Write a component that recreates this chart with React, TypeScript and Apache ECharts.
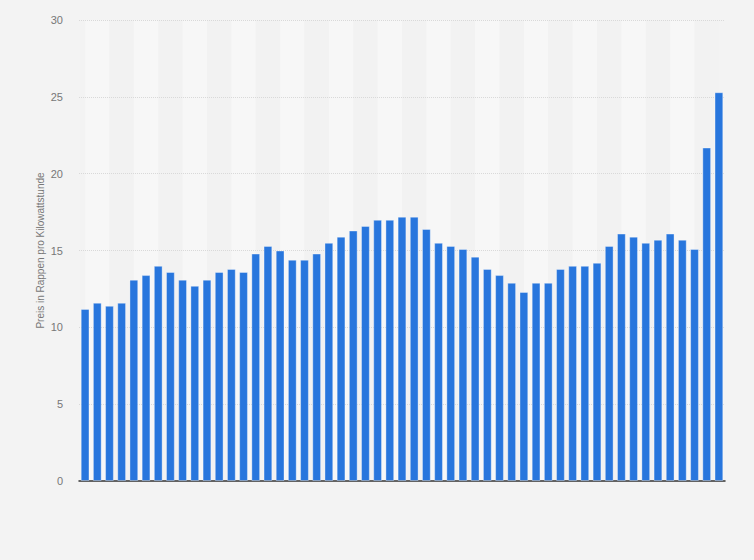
import React, { useEffect, useRef } from "react";
import * as echarts from "echarts";

const years = [
  "1971", "1972", "1973", "1974", "1975", "1976", "1977", "1978", "1979", "1980",
  "1981", "1982", "1983", "1984", "1985", "1986", "1987", "1988", "1989", "1990",
  "1991", "1992", "1993", "1994", "1995", "1996", "1997", "1998", "1999", "2000",
  "2001", "2002", "2003", "2004", "2005", "2006", "2007", "2008", "2009", "2010",
  "2011", "2012", "2013", "2014", "2015", "2016", "2017", "2018", "2019", "2020",
  "2021", "2022", "2023",
];

const prices = [
  11.2, 11.6, 11.4, 11.6, 13.1, 13.4, 14.0, 13.6, 13.1, 12.7,
  13.1, 13.6, 13.8, 13.6, 14.8, 15.3, 15.0, 14.4, 14.4, 14.8,
  15.5, 15.9, 16.3, 16.6, 17.0, 17.0, 17.2, 17.2, 16.4, 15.5,
  15.3, 15.1, 14.6, 13.8, 13.4, 12.9, 12.3, 12.9, 12.9, 13.8,
  14.0, 14.0, 14.2, 15.3, 16.1, 15.9, 15.5, 15.7, 16.1, 15.7,
  15.1, 21.7, 25.3,
];

const yAxisName = "Preis in Rappen pro Kilowattstunde";

const App = () => {
  const chartRef = useRef(null);

  useEffect(() => {
    document.body.style.margin = "0";
    document.body.style.background = "#f3f3f3";
    if (!chartRef.current) return;
    const chart = echarts.init(chartRef.current, null, { renderer: "svg" });

    chart.setOption({
      animation: false,
      backgroundColor: "#f3f3f3",
      textStyle: { fontFamily: "Liberation Sans, Arial, sans-serif" },
      grid: { left: 79, right: 29, top: 20, bottom: 79 },
      xAxis: {
        type: "category",
        data: years,
        z: 0,
        axisLine: { lineStyle: { color: "#333", width: 1.5 } },
        axisTick: { show: false },
        axisLabel: { show: false },
        splitArea: {
          show: true,
          interval: 1,
          alignWithLabel: true,
          areaStyle: { color: ["#f7f7f7", "#f2f2f2"] },
        },
      },
      yAxis: {
        type: "value",
        min: 0,
        max: 30,
        interval: 5,
        z: 1,
        name: yAxisName,
        nameLocation: "middle",
        nameGap: 34,
        nameMoveOverlap: false,
        nameTextStyle: { color: "#777", fontSize: 10 },
        axisLine: { show: false },
        axisTick: { show: false },
        axisLabel: { color: "#777", fontSize: 11, margin: 16 },
        splitLine: {
          showMinLine: false,
          lineStyle: { color: "#d9d9d9", type: "dotted" },
        },
      },
      series: [
        {
          type: "bar",
          data: prices,
          barWidth: "72%",
          z: 2,
          itemStyle: {
            color: "#2876dd",
            borderColor: "rgba(255,255,255,0.35)",
            borderWidth: 1,
          },
        },
      ],
    });

    return () => {
      chart.dispose();
    };
  }, []);

  return <div ref={chartRef} style={{ width: "754px", height: "560px" }} />;
};

export default App;
